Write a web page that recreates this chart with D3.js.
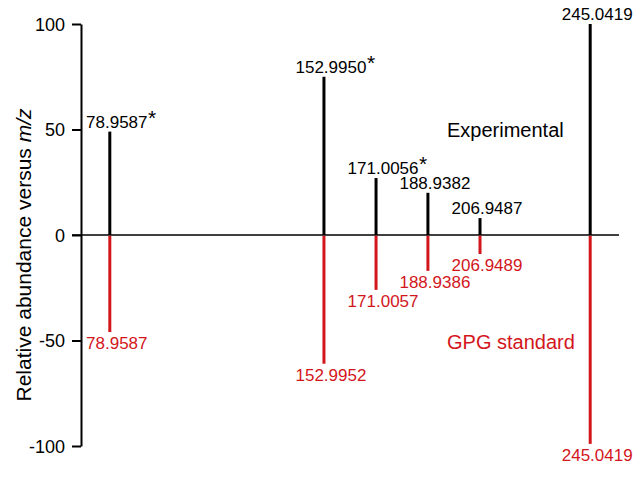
<!DOCTYPE html>
<html><head><meta charset="utf-8">
<script src="https://cdn.jsdelivr.net/npm/d3@7"></script>
<style>body{margin:0;background:#fff}svg{display:block}text{font-family:"Liberation Sans",Arial,Helvetica,sans-serif}</style>
</head><body><svg id="c" width="640" height="488"></svg>
<script>
const expMz    = [78.9587, 152.9950, 171.0056, 188.9382, 206.9487, 245.0419];
const expVal   = [49, 75, 27, 20, 8, 100];
const expLabel = ["78.9587", "152.9950", "171.0056", "188.9382", "206.9487", "245.0419"];
const expStar  = [true, true, true, false, false, false];
const stdMz    = [78.9587, 152.9952, 171.0057, 188.9386, 206.9489, 245.0419];
const stdVal   = [-46, -61, -26, -17, -9, -99];
const stdLabel = ["78.9587", "152.9952", "171.0057", "188.9386", "206.9489", "245.0419"];
const yTicks   = [100, 50, 0, -50, -100];
const xDomain  = [69, 255];
const RED = "#d3161c";

const svg = d3.select("#c");
const x = d3.scaleLinear().domain(xDomain).range([81, 619]);
const y = d3.scaleLinear().domain([-100, 100]).range([446, 24]);

// zero line
svg.append("line").attr("x1", 72).attr("x2", x(xDomain[1])).attr("y1", y(0)).attr("y2", y(0))
  .attr("stroke", "#000").attr("stroke-width", 1.5);

// y axis
const ax = svg.append("g").attr("transform", "translate(81,0)")
  .call(d3.axisLeft(y).tickValues(yTicks).tickFormat(d => String(d)).tickSize(9).tickPadding(7).tickSizeOuter(0));
ax.select(".domain").attr("stroke-width", 2);
ax.selectAll(".tick line").attr("stroke-width", 2);
ax.selectAll(".tick text").attr("font-size", 18).attr("font-family", '"Liberation Sans",Arial,sans-serif').attr("fill", "#000").attr("dy", "0.36em");

// stems
const exp = expMz.map((m, i) => ({m, v: expVal[i], l: expLabel[i], s: expStar[i]}));
const std = stdMz.map((m, i) => ({m, v: stdVal[i], l: stdLabel[i]}));

svg.selectAll(".se").data(exp).join("line").attr("class", "se")
  .attr("x1", d => x(d.m)).attr("x2", d => x(d.m)).attr("y1", y(0)).attr("y2", d => y(d.v))
  .attr("stroke", "#000").attr("stroke-width", 3);
svg.selectAll(".ss").data(std).join("line").attr("class", "ss")
  .attr("x1", d => x(d.m)).attr("x2", d => x(d.m)).attr("y1", y(0) + 0.75).attr("y2", d => y(d.v))
  .attr("stroke", RED).attr("stroke-width", 3);

// labels
exp.forEach(d => {
  const t = svg.append("text").attr("x", x(d.m) + 7).attr("y", y(d.v) - 4)
    .attr("text-anchor", "middle").attr("font-size", 17).attr("fill", "#000").text(d.l);
  if (d.s) {
    const w = t.node().getComputedTextLength();
    svg.append("text").attr("x", x(d.m) + 7 + w / 2 + 0.5).attr("y", y(d.v) - 7)
      .attr("font-size", 21).attr("fill", "#000").text("*");
  }
});
svg.selectAll(".ls").data(std).join("text").attr("class", "ls")
  .attr("x", d => x(d.m) + 7).attr("y", d => y(d.v) + 17)
  .attr("text-anchor", "middle").attr("font-size", 17).attr("fill", RED).text(d => d.l);

// series names
svg.append("text").attr("x", 447).attr("y", 137).attr("font-size", 20).attr("fill", "#000").text("Experimental");
svg.append("text").attr("x", 447).attr("y", 349).attr("font-size", 20).attr("fill", RED).text("GPG standard");

// y title
const tt = svg.append("text").attr("transform", "translate(31,255) rotate(-90)")
  .attr("text-anchor", "middle").attr("font-size", 21).attr("fill", "#000");
tt.append("tspan").text("Relative abundance versus ");
tt.append("tspan").attr("font-style", "italic").text("m/z");
</script></body></html>
